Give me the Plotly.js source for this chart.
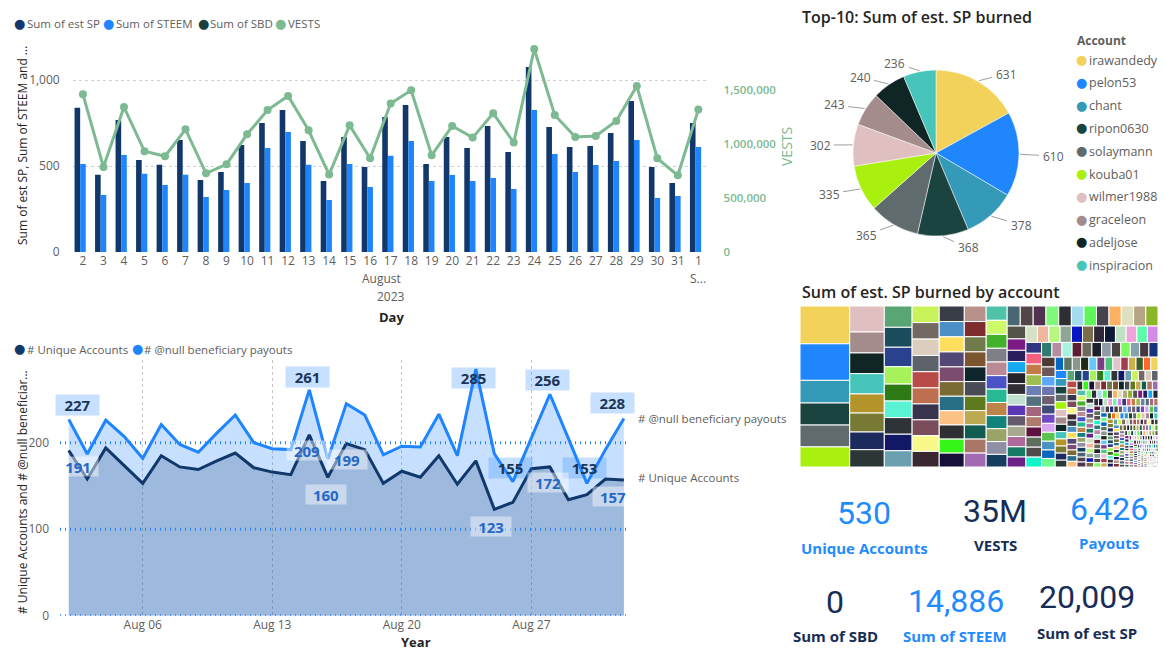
<!DOCTYPE html>
<html><head><meta charset="utf-8">
<script src="https://cdn.plot.ly/plotly-3.0.1.min.js"></script>
<style>html,body{margin:0;padding:0;background:#fff;} #chart{width:1165px;height:668px;}</style>
</head><body><div id="chart"></div>
<script>
// ---------- DATA ----------
const days = ['2','3','4','5','6','7','8','9','10','11','12','13','14','15','16','17','18','19','20','21','22','23','24','25','26','27','28','29','30','31','1'];
const sumEstSP = [839,449,767,535,508,651,419,465,622,750,826,645,413,669,494,785,855,512,669,605,733,581,1076,727,610,616,692,878,494,401,750];
const sumSTEEM = [512,331,564,455,390,449,320,360,401,605,698,508,302,512,378,560,645,413,448,413,430,366,826,570,465,506,529,651,314,326,610];
const sumSBD = [0,0,0,0,0,0,0,0,0,0,0,0,0,0,0,0,0,0,0,0,0,0,0,0,0,0,0,0,0,0,0];
const vests = [1464000,789000,1346000,935000,889000,1139000,731000,814000,1093000,1318000,1449000,1130000,719000,1176000,870000,1378000,1501000,898000,1170000,1062000,1288000,1016000,1885000,1272000,1068000,1077000,1216000,1541000,870000,712000,1322000];

const dates = ['2023-08-02','2023-08-03','2023-08-04','2023-08-05','2023-08-06','2023-08-07','2023-08-08','2023-08-09','2023-08-10','2023-08-11','2023-08-12','2023-08-13','2023-08-14','2023-08-15','2023-08-16','2023-08-17','2023-08-18','2023-08-19','2023-08-20','2023-08-21','2023-08-22','2023-08-23','2023-08-24','2023-08-25','2023-08-26','2023-08-27','2023-08-28','2023-08-29','2023-08-30','2023-08-31','2023-09-01'];
const nullPayouts = [227,187,226,207,182,221,198,189,211,232,200,193,192,261,181,245,232,186,196,195,233,185,285,187,155,206,256,205,153,192,228];
const uniqueAccounts = [191,158,194,173,153,185,172,169,179,188,171,166,163,209,160,199,192,153,167,160,185,152,179,123,131,170,172,134,140,158,157];
const payoutLabelIdx = [0,13,22,24,26,28,30];
const accountLabelIdx = [0,13,14,15,23,26,30];

const topAccounts = ['irawandedy','pelon53','chant','ripon0630','solaymann','kouba01','wilmer1988','graceleon','adeljose','inspiracion'];
const topSP = [631,610,378,368,365,335,302,243,240,236];

const otherSP = [
222,220,205,201,
199,186,182,162,158,155,155,154,152,
151,150,149,148,147,146,145,144,143,142,
131,129,127,126,124,123,122,120,119,118,117,
114,112,111,110,108,107,106,105,104,103,102,101,
99,98,97,96,95,94,93,92,91,90,89,88,
87,86,86,85,85,84,84,83,83,82,82,81,
72,71,70,69,68,67,67,66,65,65,64,63,
63,63,62,62,61,61,60,60,59,59,58,58,
57,57,56,56,55,55,54,54,53,53,52,52,
51,50,50,49,49,48,48,47,47,46,46,
45,45,44,44,43,43,42,42,41,41,
40,39,39,38,38,37,37,36,36,35,35,
34,34,33,33,32,32,31,31,30,30,30,29,29,
29,28,28,28,27,27,27,26,26,26,25,25,
25,24,24,24,23,23,23,22,22,22,21,21,
21,20,20,20,19,19,19,19,18,18,18,18,
18,18,18,18,17,17,17,17,17,17,17,16,16,16,16,16,16,16,15,15,
15,15,15,15,15,15,15,15,14,14,14,14,14,14,14,14,14,14,14,13,13,13,13,13,13,13,13,13,13,13,
12,12,12,12,12,12,12,12,12,12,12,12,12,12,11,11,11,11,11,11,11,11,11,11,11,11,11,11,10,10,10,10,10,10,10,10,10,10,10,10,
10,10,10,10,10,10,10,10,10,10,10,10,10,10,9,9,9,9,9,9,9,9,9,9,9,9,9,9,9,9,8,8,8,8,8,8,8,8,8,8,8,8,7,7,7,7,7,7,7,7,
7,7,7,7,7,7,7,7,7,7,7,7,7,7,7,6,6,6,6,6,6,6,6,6,6,6,6,6,6,6,6,6,6,6,6,5,5,5,5,5,5,5,5,5,5,5,5,5,5,5,4,4,4,4,4,4,4,4,4,4,
4,4,4,4,4,4,4,4,4,4,4,4,4,4,4,4,4,4,4,4,3,3,3,3,3,3,3,3,3,3,3,3,3,3,3,3,3,3,3,3,3,3,3,3,3,3,3,3,3,3,2,2,2,2,2,2,2,2,2,2,2,2,2,2,2,2,2,2,2,2,
2,2,2,2,2,2,2,2,2,2,2,2,2,2,2,2,2,2,2,2,2,2,2,1,1,1,1,1,1,1,1,1,1,1,1,1,1,1,1,1,1,1,1,1,1,1,1,1,1,1,1,1,1,1,1,1,1,1,1,1,1,1,1
];

const kpiValues = ['530','35M','6,426','0','14,886','20,009'];
const kpiLabels = ['Unique Accounts','VESTS','Payouts','Sum of SBD','Sum of STEEM','Sum of est SP'];

// ---------- STYLE ----------
const W = 1165, H = 668;
const px = x => x / W;
const py = y => 1 - y / H;
const FONT = "'Segoe UI', 'Open Sans', sans-serif";
const GRAY = '#605E5C';
const DARK = '#252423';
const C_SP = '#12386B', C_STEEM = '#1F85FF', C_SBD = '#1B3F3D', C_VESTS = '#7DBA91';

const palette = ['#F2D25B','#1F86FE','#3599B8','#1B4441','#5F6B6D','#A9F00F','#DFBFBF','#A48C8C','#0F2624','#48C5BB',
'#B4942A','#787A33','#1D2A5E','#2B3636','#5AA574','#1C4D5C','#2A428E','#A6F25B','#2E7A17','#5AF3D3','#2E3338','#121866','#6AA0B0',
'#C9F35B','#736862','#DDCDBE','#5E636B','#B84A4A','#BD6F50','#39344D','#7B4C5A','#F8F98A','#3A2830',
'#383C47','#4A8FC6','#FEDE5F','#524775','#7B4C70','#7A6A33','#276E86','#FBC185','#2E2F33','#36F518','#17113A',
'#B8918A','#7F2C2F','#717A4C','#7B5430','#0E252B','#4A4C55','#5E7A1C','#BDA854','#115B51','#A87768','#A06BB2','#50C2A8',
'#CDF96B','#44B12A','#7F7F88','#B98A96','#4B52C5','#27B894','#BC8449','#12837A','#9AA469','#8F8FA6','#163E5E','#4A6674',
'#524648','#4F3350','#7FF97A','#2E2F33','#A5DBEF','#5EF65A','#46434F','#FDB163','#DFDFC2','#B5A585','#8DB52A','#535347',
'#7B1A83','#2A1F5C','#15A9EF','#25242C','#342F36','#C1E0D0','#5937B5','#655A6D','#A8A891','#B0699C','#167A62','#6D2085',
'#D5E0C5','#EFB7A0','#B7F77F','#8FA695','#0716C1','#7A6D4B','#2F2839','#0E1938','#C1E1C3','#EFA3D8','#5CFCA9','#D68AE8',
'#2F3580','#F75F80','#C57A4A','#A0BE50','#6C7FB3','#53717C','#A3667C','#AD7A6B','#5F1242','#5F6E5B','#504B4A','#11F5C9',
'#2E7A6E','#B68CA3','#A7F3E0','#5B1F33','#6B6A5B','#1E1F2B','#8F9BA6','#4B4341','#7CF860','#88A2AD','#4A3840','#16347D',
'#4C3A34','#6B585B','#5DA8FB','#6C75B0','#6E6070','#3E4B78','#6F49C0','#D8A5F0','#5BC44E','#4A92C0','#0A67BF','#6BF990',
'#0467C2','#5E7464','#8A9889','#1F2A1A','#64C6F9','#7B3E82','#4BC47A','#E0C5CB','#A33B4F','#C8B04A','#3F5B2E','#FF6A2B'];

// pie geometry (pixels) and label placement (pixels)
const PIE_CX = 936, PIE_CY = 153, PIE_R = 83;
const pieLabelPos = [[1006,74],[1053,156],[1021,225],[968,248],[866,235],[829,194],[820,145],[834,105],[860,77],[895,63]];

// ---------- TRACES ----------
const traces = [
  {type:'bar', x:days, y:sumEstSP, name:'Sum of est SP', marker:{color:C_SP}, xaxis:'x', yaxis:'y', hoverinfo:'skip'},
  {type:'bar', x:days, y:sumSTEEM, name:'Sum of STEEM', marker:{color:C_STEEM}, xaxis:'x', yaxis:'y', hoverinfo:'skip'},
  {type:'bar', x:days, y:sumSBD, name:'Sum of SBD', marker:{color:C_SBD}, xaxis:'x', yaxis:'y', hoverinfo:'skip'},
  {type:'scatter', mode:'lines+markers', x:days, y:vests, name:'VESTS', xaxis:'x', yaxis:'y2',
   line:{color:C_VESTS, width:3}, marker:{color:C_VESTS, size:8}, hoverinfo:'skip'},

  {type:'scatter', mode:'lines', x:dates, y:nullPayouts, name:'# @null beneficiary payouts', xaxis:'x2', yaxis:'y3',
   line:{color:'#1F85FF', width:3}, fill:'tozeroy', fillcolor:'rgba(31,133,255,0.25)', hoverinfo:'skip'},
  {type:'scatter', mode:'lines', x:dates, y:uniqueAccounts, name:'# Unique Accounts', xaxis:'x2', yaxis:'y3',
   line:{color:'#12386B', width:3}, fill:'tozeroy', fillcolor:'rgba(18,58,107,0.23)', hoverinfo:'skip'},

  {type:'pie', labels:topAccounts, values:topSP, sort:false, direction:'clockwise', rotation:0,
   marker:{colors:palette.slice(0,10), line:{color:'#fff', width:0.5}},
   textinfo:'none',
   domain:{x:[px(PIE_CX - PIE_R), px(PIE_CX + PIE_R)], y:[py(PIE_CY + PIE_R), py(PIE_CY - PIE_R)]}, hoverinfo:'skip', showlegend:false}
];

const tmLabels = topAccounts.concat(otherSP.map((v,i) => 'account ' + (i + 11)));
const tmValues = topSP.concat(otherSP);
traces.push({
  type:'treemap', labels:tmLabels, parents:tmLabels.map(() => ''), values:tmValues,
  marker:{colors:tmValues.map((v,i) => palette[i % palette.length]), line:{color:'#fff', width:1}, pad:{t:0,l:0,r:0,b:0}},
  tiling:{packing:'squarify', squarifyratio:1.618, pad:0}, textinfo:'none', hoverinfo:'skip', sort:true,
  pathbar:{visible:false}, domain:{x:[px(800), px(1158)], y:[py(467), py(306)]}
});

// ---------- ANNOTATIONS ----------
const ann = [];
function txt(x, y, text, opts) {
  ann.push(Object.assign({xref:'paper', yref:'paper', x:px(x), y:py(y), text:text, showarrow:false,
    xanchor:'center', yanchor:'middle', font:{family:FONT, size:12, color:GRAY}}, opts || {}));
}
function legendItem(dotX, textX, y, color, label, size) {
  txt(dotX, y - 0.5, '●', {font:{family:'DejaVu Sans', size:13, color:color}});
  txt(textX, y, label, {xanchor:'left', font:{family:FONT, size:size || 11.5, color:GRAY}});
}
// top chart legend
const topLegend = [[19, 25, C_SP, 'Sum of est SP'], [108.5, 114, C_STEEM, 'Sum of STEEM'], [203, 208, C_SBD, 'Sum of SBD'], [280, 286, C_VESTS, 'VESTS']];
topLegend.forEach(l => legendItem(l[0], l[1], 24, l[2], l[3]));
// area chart legend
legendItem(19, 25, 349, '#12386B', '# Unique Accounts');
legendItem(137, 142, 349, '#1F85FF', '# @null beneficiary payouts');
// pie legend
txt(1075, 40, '<b>Account</b>', {xanchor:'left', font:{family:FONT, size:12, color:GRAY}});
topAccounts.forEach((a, i) => legendItem(1081, 1087, 60 + i * 22.8, palette[i], a, 12.5));

// pie value labels with leader lines
const pieTotal = topSP.reduce((a, b) => a + b, 0);
let cum = 0;
topSP.forEach((v, i) => {
  const th = (cum + v / 2) / pieTotal * 2 * Math.PI;
  cum += v;
  const ex = PIE_CX + (PIE_R + 1) * Math.sin(th), ey = PIE_CY - (PIE_R + 1) * Math.cos(th);
  const lp = pieLabelPos[i];
  ann.push({xref:'paper', yref:'paper', x:px(ex), y:py(ey), ax:lp[0] - ex, ay:lp[1] - ey, text:String(v),
    showarrow:true, arrowhead:0, arrowwidth:1, arrowcolor:'#A19F9D', standoff:0, startstandoff:2,
    font:{family:FONT, size:12, color:GRAY}});
});

// axis titles and texts
txt(22, 146, 'Sum of est SP, Sum of STEEM and ...', {textangle:-90, font:{family:FONT, size:12, color:DARK}});
txt(786, 147, 'VESTS', {textangle:-90, font:{family:FONT, size:14, color:C_VESTS}});
txt(381, 278, 'August');
txt(698, 278, 'S...');
txt(391, 297, '2023');
txt(391, 317, '<b>Day</b>', {font:{family:FONT, size:13, color:DARK}});
txt(22, 492, '# Unique Accounts and # @null beneficiar...', {textangle:-90, font:{family:FONT, size:12, color:DARK}});
txt(416, 642, '<b>Year</b>', {font:{family:FONT, size:13, color:DARK}});
txt(800, 17, 'Top-10: Sum of est. SP burned', {xanchor:'left', font:{family:FONT, size:16, color:DARK, weight:600}});
txt(800, 292, 'Sum of est. SP burned by account', {xanchor:'left', font:{family:FONT, size:16, color:DARK, weight:600}});

// series end labels
ann.push({xref:'x2', yref:'y3', x:dates[dates.length-1], y:nullPayouts[nullPayouts.length-1], xshift:12, text:'# @null beneficiary payouts',
  showarrow:false, xanchor:'left', yanchor:'middle', font:{family:FONT, size:11.5, color:GRAY}});
ann.push({xref:'x2', yref:'y3', x:dates[dates.length-1], y:uniqueAccounts[uniqueAccounts.length-1], xshift:12, yshift:2, text:'# Unique Accounts',
  showarrow:false, xanchor:'left', yanchor:'middle', font:{family:FONT, size:11.5, color:GRAY}});

// data labels
const payShift = [[9,14],[-2,13],[-2,-9],[-2,14],[-2,14],[-2,15],[-11,15]];
payoutLabelIdx.forEach((idx, k) => ann.push({xref:'x2', yref:'y3', x:dates[idx], y:nullPayouts[idx], xshift:payShift[k][0], yshift:payShift[k][1],
  text:'<b>' + nullPayouts[idx] + '</b>', showarrow:false, bgcolor:'rgba(31,133,255,0.25)', borderpad:3, width:37, height:14,
  font:{family:FONT, size:15, color:'#1C3557'}}));
const accShift = [[9,-16],[-2,-16],[-2,-17],[1,-16],[-3,-17],[-2,-16],[-11,-17]];
accountLabelIdx.forEach((idx, k) => ann.push({xref:'x2', yref:'y3', x:dates[idx], y:uniqueAccounts[idx], xshift:accShift[k][0], yshift:accShift[k][1],
  text:'<b>' + uniqueAccounts[idx] + '</b>', showarrow:false, bgcolor:'rgba(255,255,255,0.45)', borderpad:3, width:34, height:13,
  font:{family:FONT, size:15, color:'#2468C8'}}));

// KPI cards
const KBLUE = '#1F8BFF', KNAVY = '#162E57';
const kpiPos = [[864,513,864,548,KBLUE],[995,511,995,545,KNAVY],[1109,509,1109,543,KBLUE],[835,602,835,636,KNAVY],[956,601,955,636,KBLUE],[1087,597,1087,633,KNAVY]];
kpiValues.forEach((v, i) => {
  const p = kpiPos[i];
  txt(p[0], p[1], v, {font:{family:"Roboto, sans-serif", size:32, color:p[4]}});
  txt(p[2], p[3], '<b>' + kpiLabels[i] + '</b>', {font:{family:FONT, size:15, color:p[4]}});
});

// horizontal dotted lines for the area chart
const shapes = [0,100,200].map(v => ({type:'line', xref:'paper', yref:'y3', x0:px(60), x1:px(628), y0:v, y1:v,
  line:{color:'#1F85FF', width:3, dash:'1px,4px'}, layer:'above'}));

// ---------- LAYOUT ----------
const tickFont = {family:FONT, size:12, color:GRAY};
const layout = {
  width:W, height:H, margin:{l:0,r:0,t:0,b:0}, paper_bgcolor:'#fff', plot_bgcolor:'rgba(0,0,0,0)',
  showlegend:false, font:{family:FONT, color:GRAY},
  barmode:'group', bargap:0.18, bargroupgap:0,
  xaxis:{domain:[px(72.7), px(708.6)], anchor:'y', type:'category', range:[-0.5, days.length - 0.5],
    showgrid:false, zeroline:false, showline:false, ticks:'', tickfont:tickFont, fixedrange:true},
  yaxis:{domain:[py(252), py(40)], anchor:'x', range:[0,1232.6], tickvals:[0,500,1000], tickformat:',',
    showgrid:true, gridcolor:'#D0D0D0', griddash:'dot', zeroline:false, ticks:'', tickfont:tickFont, ticklabelstandoff:12},
  yaxis2:{overlaying:'y', side:'right', anchor:'x', range:[0,1968400], tickvals:[0,500000,1000000,1500000], tickformat:',',
    showgrid:false, zeroline:false, ticks:'', tickfont:{family:FONT, size:11.5, color:C_VESTS, weight:600}, ticklabelstandoff:14},
  xaxis2:{domain:[px(60), px(628)], anchor:'y3', type:'date', range:['2023-08-01 12:40','2023-09-01 05:20'],
    tickvals:['2023-08-06','2023-08-13','2023-08-20','2023-08-27'], tickformat:'%b %d',
    showgrid:true, gridcolor:'#C8C6C4', griddash:'dot', gridwidth:1, zeroline:false, ticks:'', tickfont:tickFont},
  yaxis3:{domain:[py(615.7), py(360)], anchor:'x2', range:[0,295.6], tickvals:[0,100,200], showgrid:false,
    zeroline:false, ticks:'', tickfont:tickFont, ticklabelstandoff:10},
  annotations:ann, shapes:shapes
};

Plotly.newPlot('chart', traces, layout, {staticPlot:true, displayModeBar:false});
</script></body></html>
